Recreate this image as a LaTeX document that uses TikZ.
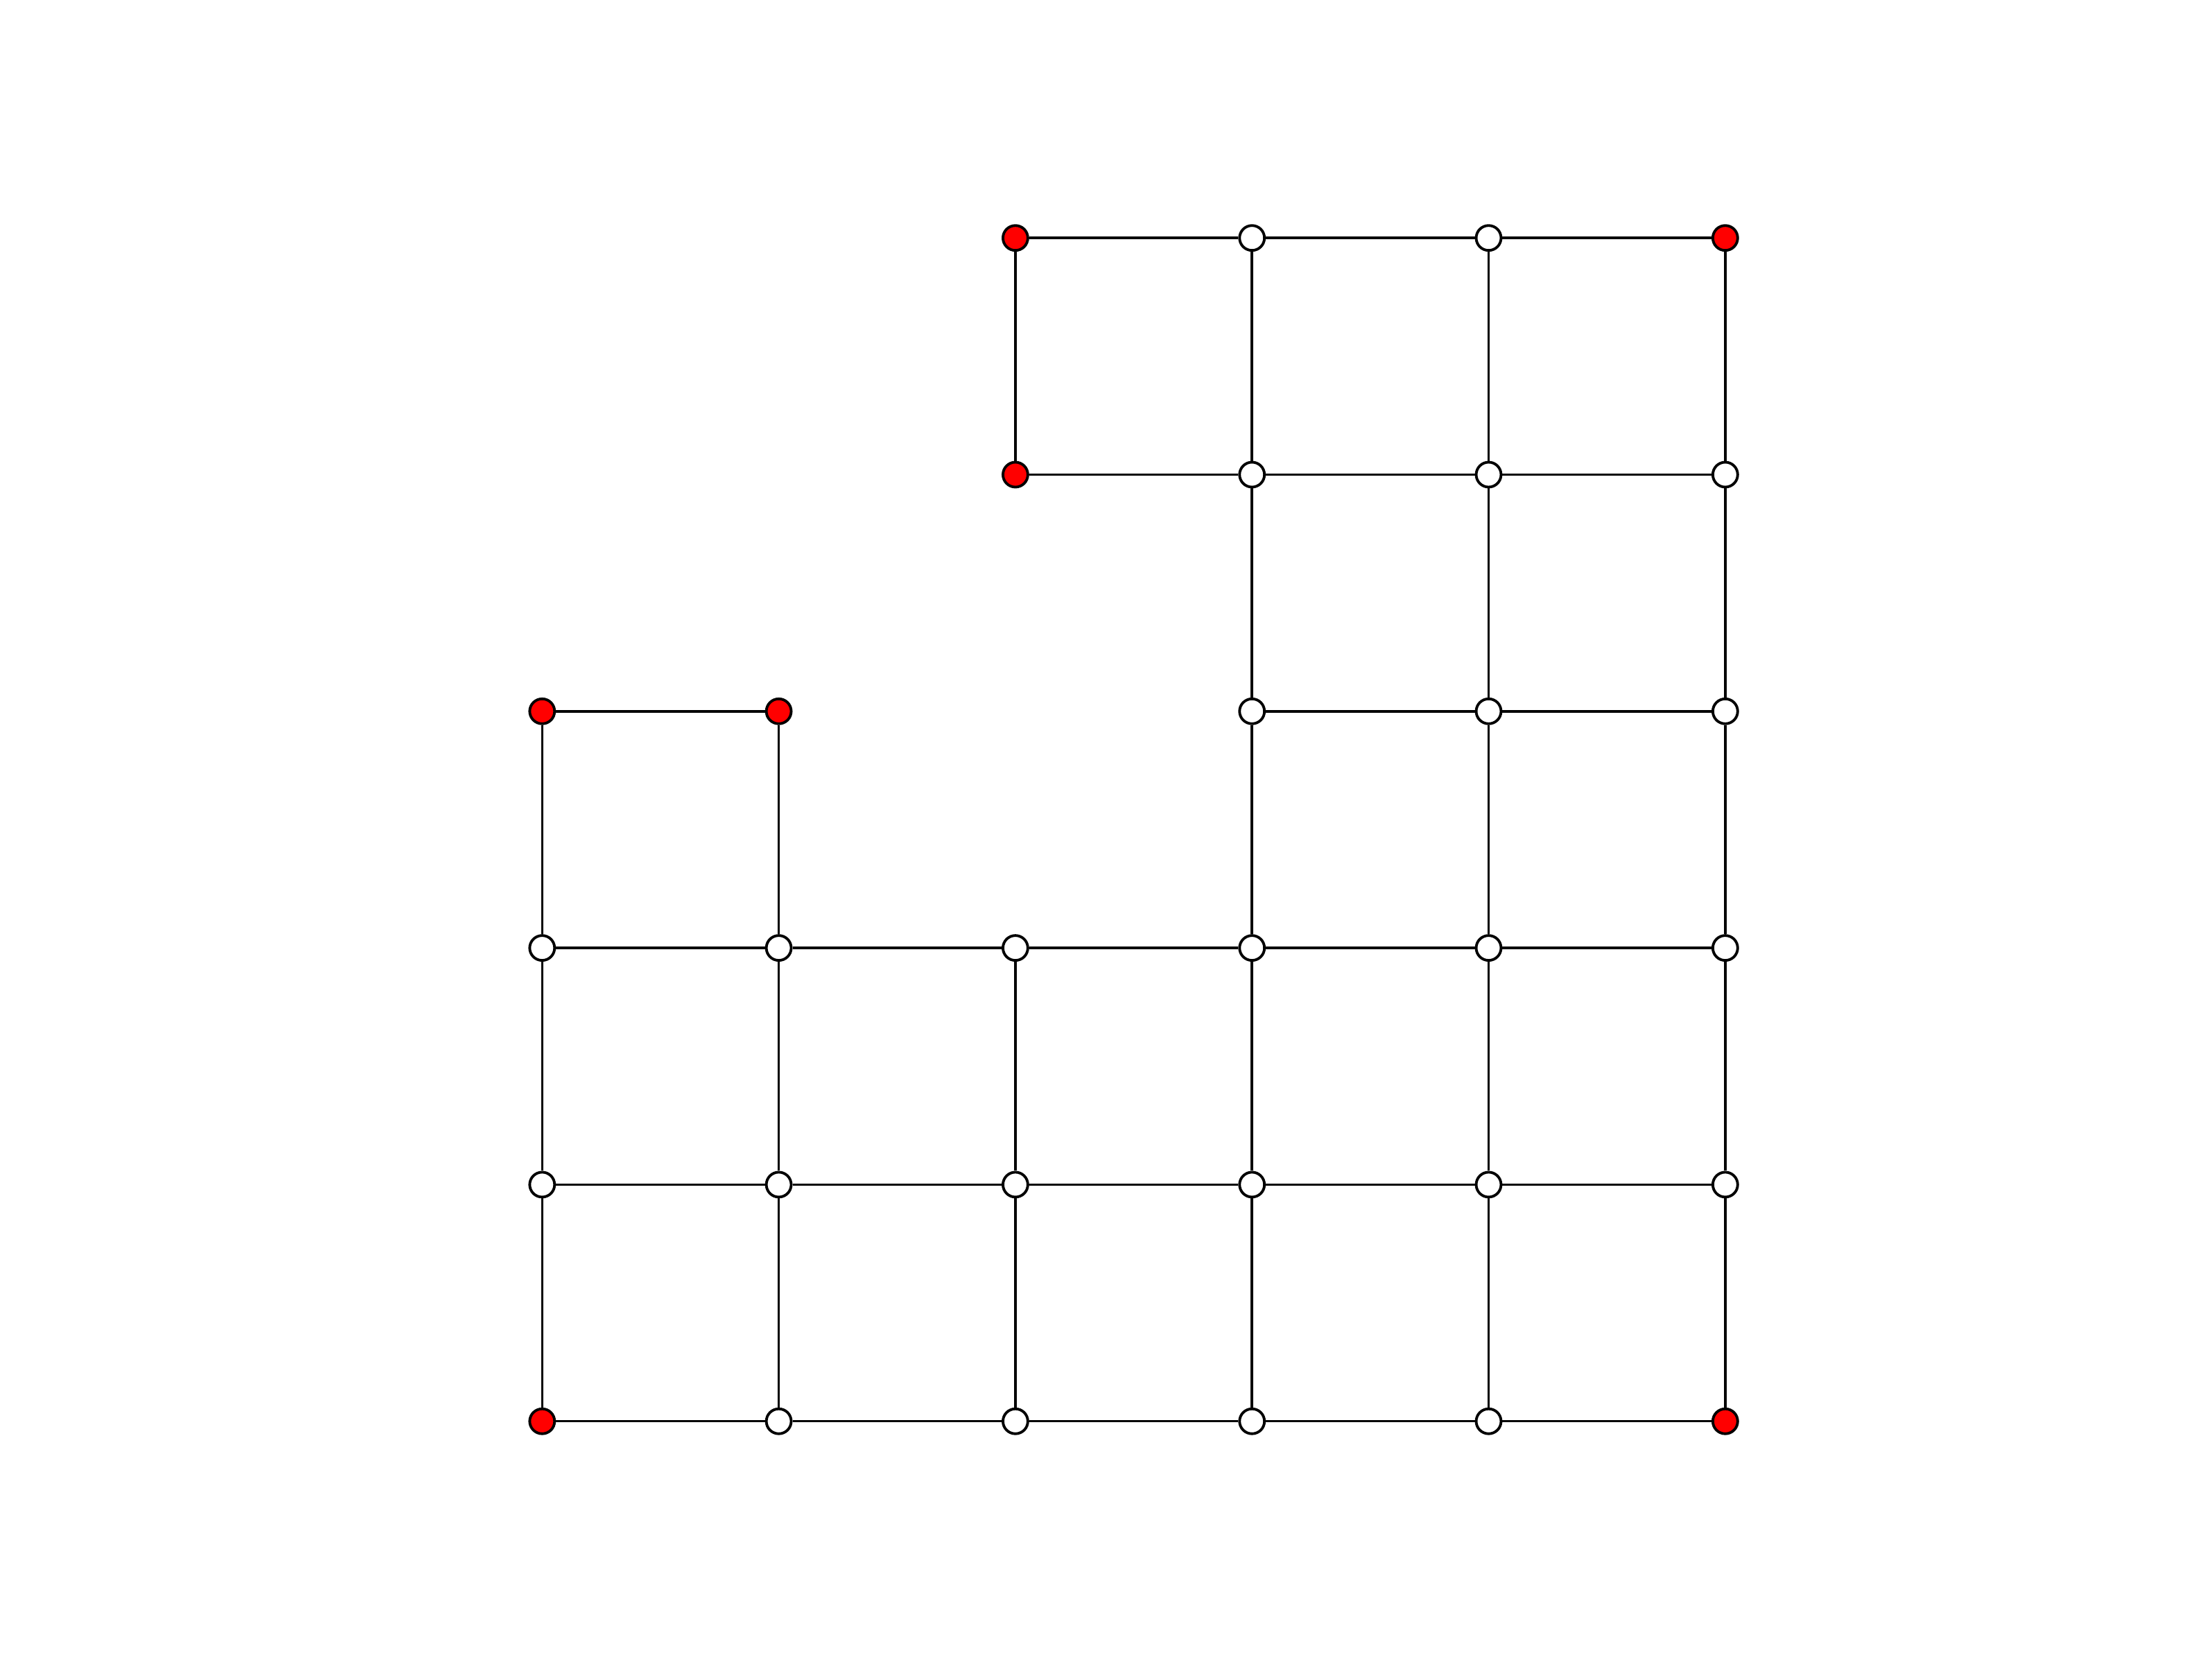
\documentclass[tikz,border=0pt]{standalone}
\usepackage{tikz}

\begin{document}
\begin{tikzpicture}[
  x=1.7115cm, y=1.7115cm,
  vtx/.style={circle, draw, line width=0.55pt, fill=white, inner sep=0pt, minimum size=0.18cm},
  endvtx/.style={vtx, fill=red},
  edge/.style={line width=0.5pt},
]
\useasboundingbox (-3.9215cm,-1.7215cm) rectangle ++(16cm,12cm);

% Corner vertices (red)
\foreach \i/\j in {0/0, 5/0, 0/3, 1/3, 2/4, 2/5, 5/5} {
  \node[endvtx] (v\i\j) at (\i,\j) {};
}

% Inner vertices
\foreach \i/\j in {1/0, 2/0, 3/0, 4/0,
                   0/1, 1/1, 2/1, 3/1, 4/1, 5/1,
                   0/2, 1/2, 2/2, 3/2, 4/2, 5/2,
                   3/3, 4/3, 5/3,
                   3/4, 4/4, 5/4,
                   3/5, 4/5} {
  \node[vtx] (v\i\j) at (\i,\j) {};
}

% Horizontal edges
\foreach \a/\b in {00/10, 10/20, 20/30, 30/40, 40/50,
                   01/11, 11/21, 21/31, 31/41, 41/51,
                   02/12, 12/22, 22/32, 32/42, 42/52,
                   03/13, 33/43, 43/53,
                   24/34, 34/44, 44/54,
                   25/35, 35/45, 45/55} {
  \draw[edge] (v\a) -- (v\b);
}

% Vertical edges
\foreach \a/\b in {00/01, 01/02, 02/03,
                   10/11, 11/12, 12/13,
                   20/21, 21/22, 24/25,
                   30/31, 31/32, 32/33, 33/34, 34/35,
                   40/41, 41/42, 42/43, 43/44, 44/45,
                   50/51, 51/52, 52/53, 53/54, 54/55} {
  \draw[edge] (v\a) -- (v\b);
}

\end{tikzpicture}
\end{document}
